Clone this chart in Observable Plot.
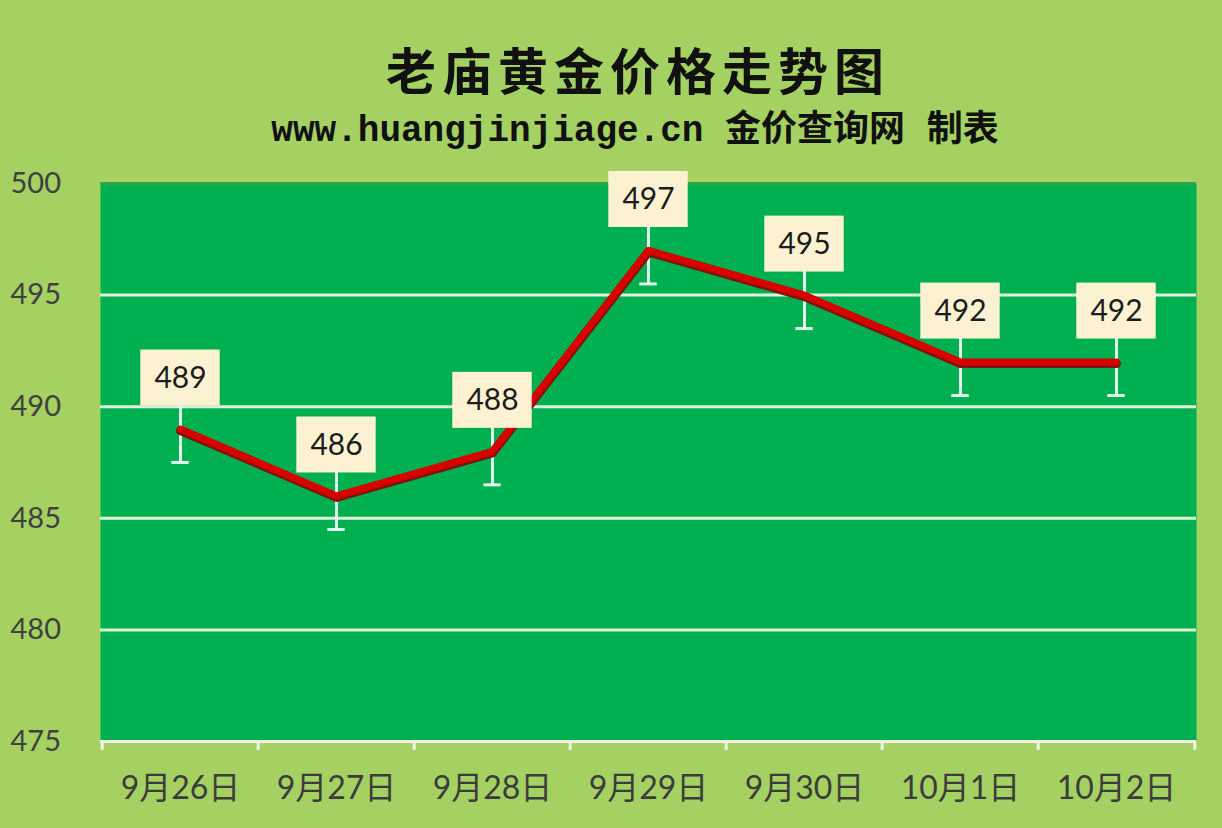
<!DOCTYPE html>
<html>
<head>
<meta charset="utf-8">
<script src="https://cdn.jsdelivr.net/npm/d3@7"></script>
<script src="https://cdn.jsdelivr.net/npm/@observablehq/plot@0.6"></script>
<style>
  html, body { margin: 0; padding: 0; background: #a5d062; }
  #wrap { width: 1222px; height: 828px; position: relative; overflow: hidden; background: #a5d062; }
  #title { position: absolute; top: 38px; left: 27px; width: 1222px; text-align: center;
    font-family: "Noto Sans CJK SC", sans-serif; font-weight: 700; font-size: 50px; line-height: 60px;
    letter-spacing: 6px; color: #111; }
  #subtitle { position: absolute; top: 112px; left: 24px; width: 1222px; text-align: center;
    font-family: "Liberation Mono", "Noto Sans CJK SC", monospace; font-weight: bold; font-size: 36px; line-height: 40px;
    color: #111; }
  #chart { position: absolute; top: 160px; left: 0; }
</style>
</head>
<body>
<div id="wrap">
  <div id="title">老庙黄金价格走势图</div>
  <div id="subtitle">www.huangjinjiage.cn 金价查询网 制表</div>
  <div id="chart"></div>
</div>
<script>
const dates = ["9月26日", "9月27日", "9月28日", "9月29日", "9月30日", "10月1日", "10月2日"];
const prices = [489, 486, 488, 497, 495, 492, 492];
const errors = [1.5, 1.5, 1.5, 1.5, 1.5, 1.5, 1.5];
const yTicks = [475, 480, 485, 490, 495, 500];
const gridValues = [480, 485, 490, 495];

const data = dates.map((d, i) => ({date: d, price: prices[i], err: errors[i]}));

const W = 1222, H = 668, mL = 100, mR = 26, mT = 23, mB = 87;
const bw = (W - mL - mR) / dates.length;
const capW = 18;
const axisFont = "Lato, 'Noto Sans CJK SC', sans-serif";

const chart = Plot.plot({
  width: W, height: H,
  marginLeft: mL, marginRight: mR, marginTop: mT, marginBottom: mB,
  style: {background: "transparent", overflow: "visible"},
  x: {domain: dates, padding: 0, label: null},
  y: {domain: [475, 500], label: null},
  marks: [
    Plot.frame({fill: "#00af50", stroke: null}),
    Plot.ruleY([500], {stroke: "#2da64a", strokeWidth: 3}),
    Plot.ruleY(gridValues, {stroke: "#e3f1da", strokeWidth: 3}),
    Plot.ruleY([475], {stroke: "#eef5e4", strokeWidth: 3}),
    Plot.ruleX(dates, {y1: 475, y2: 475, insetBottom: -9, dx: -bw / 2, stroke: "#eef5e4", strokeWidth: 3}),
    Plot.ruleX([dates[dates.length - 1]], {y1: 475, y2: 475, insetBottom: -9, dx: bw / 2, stroke: "#eef5e4", strokeWidth: 3}),
    Plot.ruleX(data, {x: "date", y1: d => d.price - d.err, y2: d => d.price + d.err, stroke: "#dff5ee", strokeWidth: 3}),
    Plot.tickY(data, {x: "date", y: d => d.price - d.err, insetLeft: (bw - capW) / 2, insetRight: (bw - capW) / 2, stroke: "#dff5ee", strokeWidth: 3}),
    Plot.line(data, {x: "date", y: "price", stroke: "#7d1410", strokeWidth: 9, dy: 1.5, strokeLinejoin: "round", strokeLinecap: "round"}),
    Plot.line(data, {x: "date", y: "price", stroke: "#d80000", strokeWidth: 7, strokeLinejoin: "round", strokeLinecap: "round"}),
    Plot.barY(data, {x: "date", y1: "price", y2: "price", insetLeft: (bw - 80) / 2, insetRight: (bw - 80) / 2, insetTop: -79, insetBottom: 23, fill: "#fcf2d2"}),
    Plot.text(data, {x: "date", y: "price", text: d => String(d.price), dy: -51, fontSize: 30, fill: "#1c1c1c", fontFamily: axisFont}),
    Plot.axisY(yTicks, {tickSize: 0, tickPadding: 3, textAnchor: "start", dx: -87, fontSize: 29, fill: "#404040", fontFamily: axisFont}),
    Plot.axisX({tickSize: 0, tickPadding: 35, fontSize: 32, fill: "#3c3c3c", fontFamily: axisFont})
  ]
});
document.getElementById("chart").appendChild(chart);
</script>
</body>
</html>
